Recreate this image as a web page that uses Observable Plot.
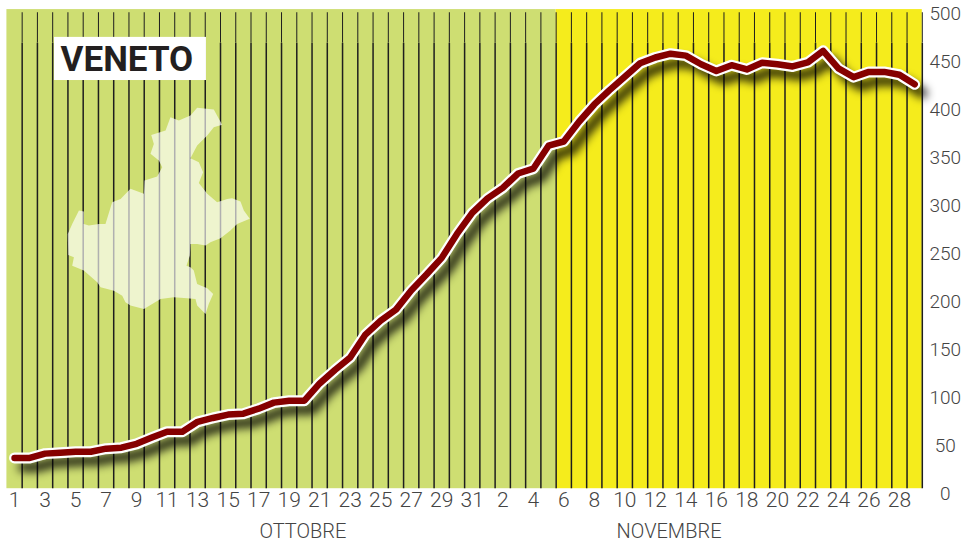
<!DOCTYPE html>
<html><head><meta charset="utf-8">
<script src="https://cdn.jsdelivr.net/npm/d3@7"></script>
<script src="https://cdn.jsdelivr.net/npm/@observablehq/plot@0.6"></script>
<style>html,body{margin:0;padding:0;background:#fff}svg{display:block}</style>
</head><body><div id="chart"></div>
<script>
const dayLabels = ["1","2","3","4","5","6","7","8","9","10","11","12","13","14","15","16","17","18","19","20","21","22","23","24","25","26","27","28","29","30","31",
"1","2","3","4","5","6","7","8","9","10","11","12","13","14","15","16","17","18","19","20","21","22","23","24","25","26","27","28","29"];
const cases = [37.3,37.3,41.8,42.8,43.8,43.8,47,48,52,58.5,64.7,64.7,75,79,82.5,83.5,88.7,95,97,97,115,129,142,166,180.6,192,212,228.6,246,271,293,
308,319,334,339,363,367.4,388,406,421,435,449,455,459,457,448,441,447,442.6,449.6,448,445.7,450,462,443.6,434.5,440,440,437,427];
const months = ["OTTOBRE","NOVEMBRE"];
const monthPos = [18.9,42.9];
const periods = [{a:-0.5,b:35.5,c:"#cede72"},{a:35.5,b:59.5,c:"#f5ec1c"}];
const yTicks = [0,50,100,150,200,250,300,350,400,450,500];
const regionX = [11.97,13.06,13.39,13.61,13.06,12.63,11.97,11.53,12.08,12.36,12.08,12.63,13.28,13.94,14.26,14.81,15.03,15.42,14.59,14.15,13.50,12.84,12.52,11.97,11.53,11.49,11.27,11.53,11.75,11.97,12.63,13.02,12.73,12.52,11.97,11.86,11.10,10.44,9.57,8.48,7.60,7.27,7.06,6.51,5.64,5.42,4.54,3.78,3.89,3.52,3.49,3.78,4.22,4.54,4.54,4.87,5.53,5.96,6.40,6.95,7.60,8.48,8.52,9.35,9.68,9.46,8.91,9.13,8.96,9.90,10.22,10.77,11.53];
const regionY = [402.5,400.8,391.0,384.8,382.3,373.6,363.2,350.0,345.8,335.4,324.2,312.8,304.1,307.5,308.2,304.8,295.4,286.7,281.4,274.5,266.5,262.3,258.8,260.6,260.6,248.4,237.9,236.2,232.7,218.8,214.3,208.4,197.9,187.5,196.2,203.2,204.2,204.9,203.2,192.7,196.2,199.7,206.6,211.8,215.3,220.5,232.7,237.9,246.6,249.1,271.0,281.4,295.4,294.3,281.4,279.7,281.4,281.4,304.1,307.5,318.0,312.8,326.7,330.8,340.6,347.5,354.5,364.9,374.3,378.9,392.8,389.3,394.5];
const n = dayLabels.length;
const idx = d3.range(n);
const grid = d3.range(0,n).map(i=>i+0.5);
const series = idx.map(i=>({i,v:cases[i]}));
const region = regionX.map((x,i)=>({x,y:regionY[i]}));
const plot = Plot.plot({
  width:963,height:544,marginLeft:0,marginRight:0,marginTop:0,marginBottom:0,
  x:{domain:[-0.92,62.2],range:[0,963],axis:null},
  y:{domain:[515,-53],range:[-0.5,544],axis:null},
  style:{background:"#fff",fontFamily:"Roboto, sans-serif"},
  marks:[
    Plot.rect(periods,{x1:"a",x2:"b",y1:5.2,y2:505,fill:"c"}),
    Plot.ruleX(grid,{x:d=>d,y1:5.2,y2:470,stroke:"#1e1e1e",strokeWidth:1.5}),
    Plot.ruleX(grid,{x:d=>d,y1:470,y2:501.7,stroke:"#1e1e1e",strokeWidth:1}),
    Plot.line(region,{x:"x",y:"y",fill:"#fff",fillOpacity:0.65,stroke:"none"}),
    Plot.rect([1],{x1:2.62,x2:12.58,y1:431,y2:476,fill:"#fff"}),
    Plot.text(["VENETO"],{x:3.02,y:453,text:d=>d,textAnchor:"start",fontSize:35,fontWeight:700,fill:"#231f20"}),
    Plot.line(series,{x:"i",y:"v",stroke:"#000",strokeWidth:9,strokeOpacity:0.9,dx:8,dy:9,imageFilter:"blur(5px)"}),
    Plot.line(series,{x:"i",y:"v",stroke:"#fff",strokeWidth:11,strokeLinejoin:"round",strokeLinecap:"round"}),
    Plot.line(series,{x:"i",y:"v",stroke:"#850000",strokeWidth:6.5,strokeLinejoin:"round",strokeLinecap:"round"}),
    Plot.text(idx.filter(i=>i%2===0),{x:d=>d,y:-7,text:d=>dayLabels[d],fontSize:21,fontWeight:300,fill:"#444"}),
    Plot.text(yTicks,{x:61,y:d=>d,text:d=>String(d),fontSize:19,fontWeight:300,fill:"#444",textAnchor:"middle"}),
    Plot.text(months,{x:(d,i)=>monthPos[i],y:-39.7,text:d=>d,fontSize:20,fontWeight:300,fill:"#444"})
  ]
});
document.getElementById("chart").append(plot);
</script></body></html>
